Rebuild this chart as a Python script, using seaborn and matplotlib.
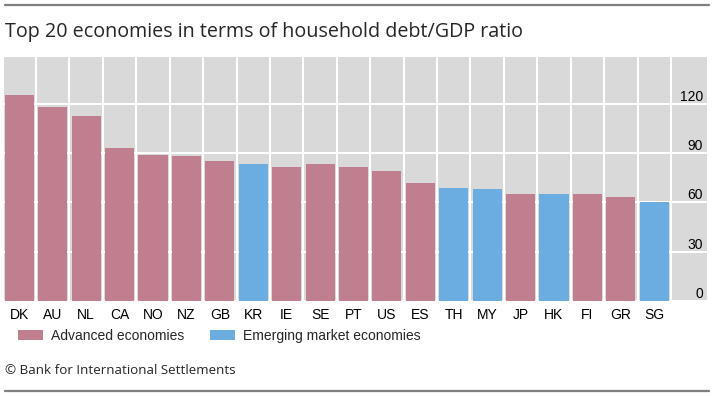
import matplotlib
matplotlib.use("Agg")
import matplotlib.pyplot as plt
from matplotlib.lines import Line2D
import numpy as np
import pandas as pd
import seaborn as sns

# household debt as % of GDP
countries = ["DK", "AU", "NL", "CA", "NO", "NZ", "GB", "KR", "IE", "SE",
             "PT", "US", "ES", "TH", "MY", "JP", "HK", "FI", "GR", "SG"]
debt_gdp = [125.6, 117.9, 112.6, 93.1, 88.7, 88.1, 85.4, 83.4, 81.7, 83.2,
            81.6, 79.1, 72.0, 68.8, 68.2, 65.1, 64.9, 65.1, 63.3, 60.3]
emerging = ["KR", "TH", "MY", "HK", "SG"]
groups = ["Advanced economies", "Emerging market economies"]
yticks = [0, 30, 60, 90, 120]

df = pd.DataFrame({"country": countries, "debt": debt_gdp})
df["group"] = np.where(df["country"].isin(emerging), groups[1], groups[0])

sns.set_style("white")
plt.rcParams["font.family"] = ["Liberation Sans", "DejaVu Sans"]

fig = plt.figure(figsize=(7.14, 3.96), dpi=100)
ax = fig.add_axes([4 / 714, 95 / 396, 703 / 714, 244 / 396])
ax.set_facecolor("#d9d9d9")

palette = {groups[0]: "#c07f8e", groups[1]: "#6badE0"}
sns.barplot(data=df, x="country", y="debt", hue="group", hue_order=groups,
            palette=palette, dodge=False, width=0.87, saturation=1,
            linewidth=0, ax=ax)
for p in ax.patches:
    p.set_zorder(3)

ax.set_xlim(-0.46, 20.58)
ax.set_ylim(0, 148.5)
ax.set_xlabel("")
ax.set_ylabel("")
for s in ax.spines.values():
    s.set_visible(False)

# white grid: horizontals at ticks, verticals between bars
ax.set_yticks(yticks)
ax.set_xticks(np.arange(len(countries)) + 0.5, minor=True)
ax.grid(axis="y", which="major", color="white", lw=1.5)
ax.grid(axis="x", which="minor", color="white", lw=1.5)
ax.grid(axis="x", which="major", visible=False)
ax.set_axisbelow(True)

ax.tick_params(axis="x", which="major", length=0, pad=5, labelsize=10, colors="black")
ax.tick_params(axis="x", which="minor", direction="in", length=5, width=1, color="#555555")
ax.yaxis.tick_right()
ax.tick_params(axis="y", length=0, pad=-3, labelsize=10, colors="black")
plt.setp(ax.get_yticklabels(), ha="right", va="bottom")

# legend below the plot
handles, labels = ax.get_legend_handles_labels()
ax.legend(handles, labels, loc="center left", bbox_to_anchor=(18 / 714, 1 - 336 / 396),
          bbox_transform=fig.transFigure, ncol=2, frameon=False, fontsize=10,
          handlelength=1.8, handleheight=0.7, handletextpad=0.55,
          columnspacing=1.9, borderpad=0, borderaxespad=0)

fig.text(5 / 714, 1 - 32 / 396, "Top 20 economies in terms of household debt/GDP ratio",
         fontsize=14.2, family="Open Sans", va="center", ha="left")
fig.text(5 / 714, 1 - 370 / 396, "\u00a9 Bank for International Settlements",
         fontsize=9.6, family="Open Sans", va="center", ha="left")

# horizontal rules top and bottom
fig.add_artist(Line2D([5 / 714, 709 / 714], [1 - 4.5 / 396] * 2, color="#7f7f7f", lw=1.6))
fig.add_artist(Line2D([5 / 714, 709 / 714], [1 - 390.5 / 396] * 2, color="#7f7f7f", lw=1.6))

fig.savefig("out.png", dpi=100)
